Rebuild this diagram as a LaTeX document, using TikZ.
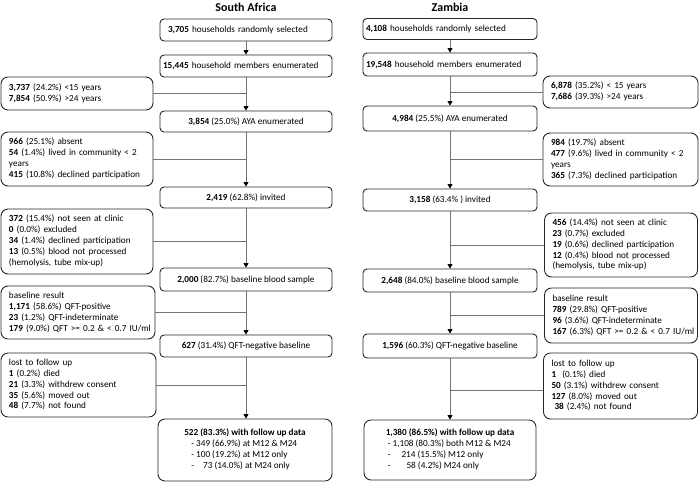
\documentclass[tikz,border=0pt]{standalone}
\usepackage{fontspec}
\setmainfont{Carlito}
\usetikzlibrary{arrows.meta}
\newcommand\rows[1]{\begin{tabular}{@{}l@{}}#1\end{tabular}}
\begin{document}
\begin{tikzpicture}[x=1pt,y=-1pt,
  every node/.style={font=\fontsize{9.2}{10.9}\selectfont},
  mainbox/.style={draw=black!85, line width=0.9pt, rounded corners=4pt, minimum width=172pt, inner sep=2pt, align=center},
  leftbox/.style={mainbox, align=left, inner xsep=3pt, text width=166pt},
  sidebox/.style={draw=black!85, line width=0.9pt, rounded corners=7pt, text width=136pt, inner xsep=8pt, inner ysep=2pt, align=left},
  title/.style={font=\fontsize{12}{14}\selectfont\bfseries},
  conn/.style={draw=black!55, line width=0.7pt},
  arr/.style={draw=black!55, line width=0.7pt, -{Triangle[width=5pt,length=4.5pt,black]}}
]
\useasboundingbox (0,0) rectangle (700,482);
% titles
\node[title] (tsa) at (246,7) {South Africa};
\node[title] (tzm) at (450,7) {Zambia};
% South Africa main
\node[leftbox, minimum height=22pt, inner xsep=8pt, text width=156pt] (sa1) at (246,30) {\textbf{3,705} households randomly selected};
\node[leftbox, minimum height=22pt] (sa2) at (246,66) {\textbf{15,445} household members enumerated};
\node[mainbox, minimum height=21pt] (sa3) at (246,121.5) {\textbf{3,854} (25.0\%) AYA enumerated};
\node[mainbox, minimum height=21pt] (sa4) at (246,197.5) {\textbf{2,419} (62.8\%) invited};
\node[mainbox, minimum height=23pt] (sa5) at (246,279.5) {\textbf{2,000} (82.7\%) baseline blood sample};
\node[mainbox, minimum height=22pt] (sa6) at (246,346) {\textbf{627} (31.4\%) QFT-negative baseline};
\node[mainbox, minimum width=174pt, minimum height=62pt, rounded corners=7pt] (sa7) at (245,450) {\rows{\textbf{522 (83.3\%) with follow up data}\\
\hspace*{7pt}- 349 (66.9\%) at M12 \& M24\\
\hspace*{7pt}- 100 (19.2\%) at M12 only\\
\hspace*{7pt}-\hspace*{9pt}73 (14.0\%) at M24 only}};
% South Africa side
\node[sidebox, minimum height=33pt] (sas1) at (77,93.5) {\rows{\textbf{3,737} (24.2\%) <15 years\\\textbf{7,854} (50.9\%) >24 years}};
\node[sidebox, minimum height=54pt] (sas2) at (77,159) {\rows{\textbf{966} (25.1\%) absent\\\textbf{54} (1.4\%) lived in community < 2\\years\\\textbf{415} (10.8\%) declined participation}};
\node[sidebox, minimum height=65pt] (sas3) at (77,241.5) {\rows{\textbf{372} (15.4\%) not seen at clinic\\\textbf{0} (0.0\%) excluded\\\textbf{34} (1.4\%) declined participation\\\textbf{13} (0.5\%) blood not processed\\(hemolysis, tube mix-up)}};
\node[sidebox, minimum height=53pt, text width=138pt] (sas4) at (78,312.5) {\rows{baseline result\\\textbf{1,171} (58.6\%) QFT-positive\\\textbf{23} (1.2\%) QFT-indeterminate\\\textbf{179} (9.0\%) QFT >= 0.2 \& < 0.7 IU/ml}};
\node[sidebox, minimum height=64pt, text width=139pt] (sas5) at (78.5,385) {\rows{lost to follow up\\\textbf{1} (0.2\%) died\\\textbf{21} (3.3\%) withdrew consent\\\textbf{35} (5.6\%) moved out\\\textbf{48} (7.7\%) not found}};
% SA arrows
\draw[arr] (sa1) -- (sa2);
\draw[arr] (sa2) -- (sa3);
\draw[arr] (sa3) -- (sa4);
\draw[arr] (sa4) -- (sa5);
\draw[arr] (sa5) -- (sa6);
\draw[arr] (sa6) -- (sa7.north -| sa6.south);
\draw[conn] (sas1.east) -- (sas1.east -| sa2.south);
\draw[conn] (sas2.east) -- (sas2.east -| sa3.south);
\draw[conn] (sas3.east) -- (sas3.east -| sa4.south);
\draw[conn] (sas4.east) -- (sas4.east -| sa5.south);
\draw[conn] (sas5.east) -- (sas5.east -| sa6.south);
% Zambia main
\node[leftbox, minimum width=174pt, text width=168pt, minimum height=21pt] (zm1) at (450,29) {\textbf{4,108} households randomly selected};
\node[leftbox, minimum width=174pt, text width=168pt, minimum height=23pt] (zm2) at (450,64.5) {\textbf{19,548} household members enumerated};
\node[mainbox, minimum width=174pt, minimum height=25pt] (zm3) at (450,118.5) {\textbf{4,984} (25.5\%) AYA enumerated};
\node[mainbox, minimum width=174pt, minimum height=22pt] (zm4) at (450,200) {\textbf{3,158} (63.4\% ) invited};
\node[mainbox, minimum width=174pt, minimum height=23pt] (zm5) at (450,280.5) {\textbf{2,648} (84.0\%) baseline blood sample};
\node[mainbox, minimum width=174pt, minimum height=24pt] (zm6) at (450,346) {\textbf{1,596} (60.3\%) QFT-negative baseline};
\node[mainbox, minimum width=172pt, minimum height=60pt, rounded corners=7pt] (zm7) at (450,450) {\rows{\textbf{1,380 (86.5\%) with follow up data}\\
\hspace*{2pt}- 1,108 (80.3\%) both M12 \& M24\\
\hspace*{2pt}-\hspace*{11pt}214 (15.5\%) M12 only\\
\hspace*{2pt}-\hspace*{16pt}58 (4.2\%) M24 only}};
% Zambia side
\node[sidebox, minimum height=32pt, text width=139pt] (zms1) at (620.5,92) {\rows{\textbf{6,878} (35.2\%) < 15 years\\\textbf{7,686} (39.3\%) >24 years}};
\node[sidebox, minimum height=53pt, text width=139pt] (zms2) at (620.5,159.5) {\rows{\textbf{984} (19.7\%) absent\\\textbf{477} (9.6\%) lived in community < 2\\years\\\textbf{365} (7.3\%) declined participation}};
\node[sidebox, minimum height=64pt, text width=137pt] (zms3) at (621,245) {\rows{\textbf{456} (14.4\%) not seen at clinic\\\textbf{23} (0.7\%) excluded\\\textbf{19} (0.6\%) declined participation\\\textbf{12} (0.4\%) blood not processed\\(hemolysis, tube mix-up)}};
\node[sidebox, minimum height=55pt, text width=137pt] (zms4) at (621,315.5) {\rows{baseline result\\\textbf{789} (29.8\%) QFT-positive\\\textbf{96} (3.6\%) QFT-indeterminate\\\textbf{167} (6.3\%) QFT >= 0.2 \& < 0.7 IU/ml}};
\node[sidebox, minimum height=66pt, text width=138pt] (zms5) at (620.5,386) {\rows{lost to follow up\\\textbf{1}\ \ (0.1\%) died\\\textbf{50} (3.1\%) withdrew consent\\\textbf{127} (8.0\%) moved out\\\ \textbf{38} (2.4\%) not found}};
% ZM arrows
\draw[arr] (zm1) -- (zm2);
\draw[arr] (zm2) -- (zm3);
\draw[arr] (zm3) -- (zm4);
\draw[arr] (zm4) -- (zm5);
\draw[arr] (zm5) -- (zm6);
\draw[arr] (zm6) -- (zm7);
\draw[conn] (zms1.west) -- (zms1.west -| zm2.south);
\draw[conn] (zms2.west) -- (zms2.west -| zm3.south);
\draw[conn] (zms3.west) -- (zms3.west -| zm4.south);
\draw[conn] (zms4.west) -- (zms4.west -| zm5.south);
\draw[conn] ([yshift=-4pt]zms5.west) -- ([yshift=-4pt]zms5.west -| zm6.south);
\end{tikzpicture}
\end{document}
